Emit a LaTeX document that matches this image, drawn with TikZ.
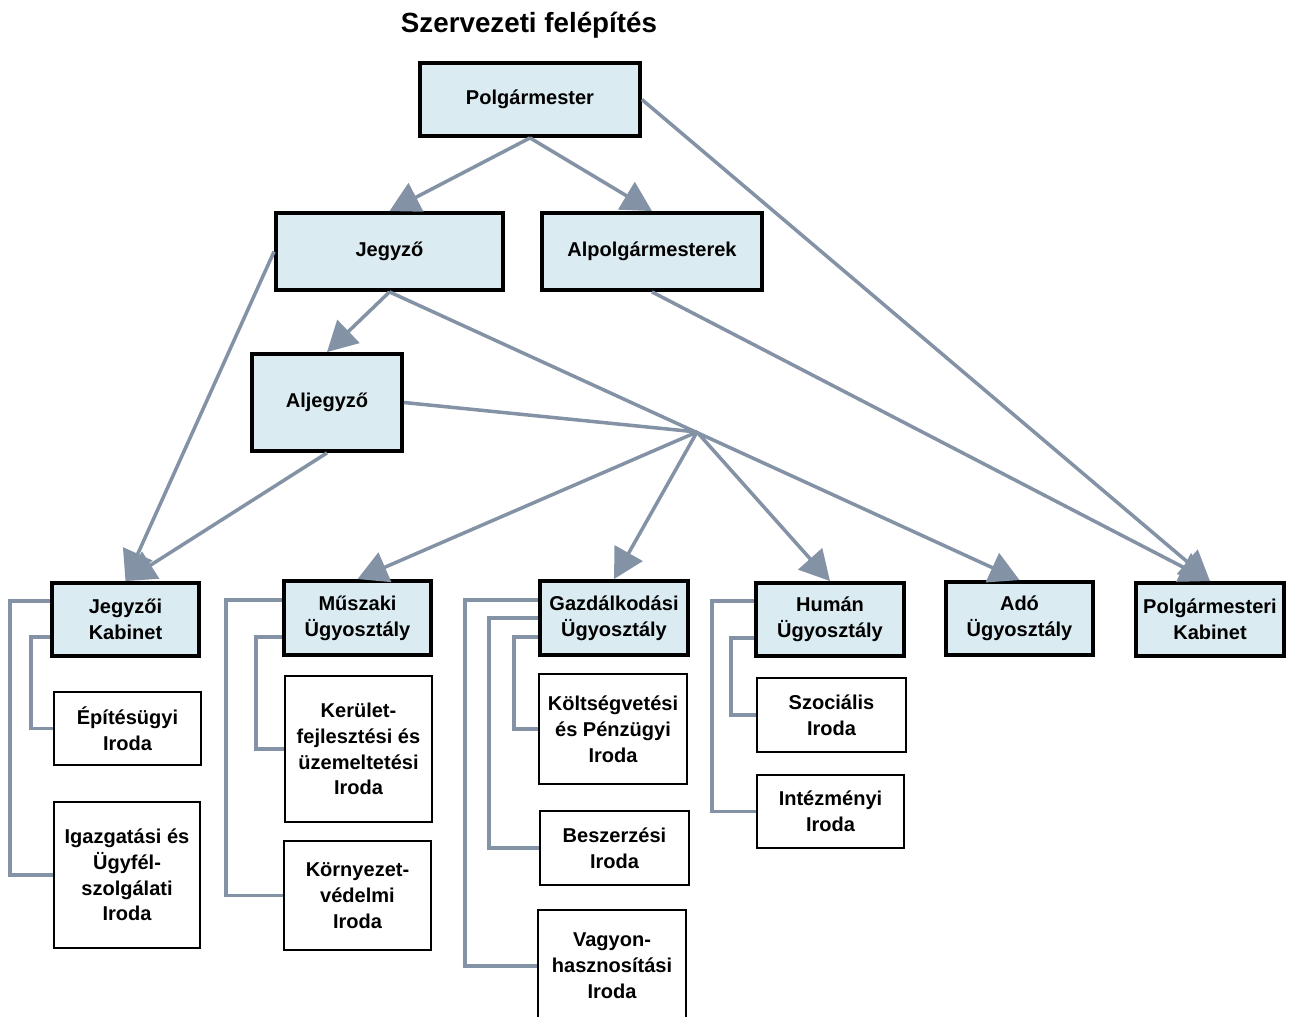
\documentclass[tikz,border=0pt]{standalone}
\usepackage{fontspec}
\setmainfont{Liberation Sans}
\usepackage{xcolor}
\usepackage{tikz}
\usetikzlibrary{shapes,arrows,arrows.meta}
\definecolor{boxblue}{HTML}{DAECF2}
\definecolor{linegray}{HTML}{8492A6}
\tikzstyle{block} = [rectangle, draw, line width=2.2pt, fill=boxblue, align=center, inner sep=0pt, font=\fontsize{11.4pt}{14.7pt}\selectfont\bfseries]
\tikzstyle{office} = [rectangle, draw, line width=1.2pt, fill=white, align=center, inner sep=0pt, minimum width=2.94cm, font=\fontsize{11.4pt}{14.7pt}\selectfont\bfseries]
\tikzstyle{line} = [draw, linegray, line width=2pt, -{Triangle[length=17pt,width=18pt]}]
\tikzstyle{branch} = [draw, linegray, line width=2pt]

\begin{document}
\begin{tikzpicture}[x=0.02cm, y=-0.02cm]
\useasboundingbox (0,0) rectangle (1295,1017);
\node [font=\fontsize{15.8pt}{18pt}\selectfont\bfseries] (title) at (529,25) {Szervezeti felépítés};
% top levels
\node [block, minimum width=4.4cm, minimum height=1.46cm] (pm) at (530,99.5) {Polgármester};
\node [block, minimum width=4.54cm, minimum height=1.54cm] (jegyzo) at (389.5,251.5) {Jegyző};
\node [block, minimum width=4.4cm, minimum height=1.54cm] (alpm) at (652,251.5) {Alpolgármesterek};
\node [block, minimum width=3cm, minimum height=1.94cm] (aljegyzo) at (327,402.5) {Aljegyző};
% departments
\node [block, minimum width=2.94cm, minimum height=1.46cm] (jkab) at (125.5,619.5) {Jegyzői\\Kabinet};
\node [block, minimum width=2.94cm, minimum height=1.48cm] (musz) at (357.5,618) {Műszaki\\Ügyosztály};
\node [block, minimum width=2.96cm, minimum height=1.48cm] (gazd) at (614,618) {Gazdálkodási\\Ügyosztály};
\node [block, minimum width=2.96cm, minimum height=1.46cm] (human) at (830,619.5) {Humán\\Ügyosztály};
\node [block, minimum width=2.94cm, minimum height=1.46cm] (ado) at (1019.5,618.5) {Adó\\Ügyosztály};
\node [block, minimum width=2.96cm, minimum height=1.46cm] (pmkab) at (1210,619.5) {Polgármesteri\\Kabinet};
% offices
\node [office, minimum height=1.46cm] (epit) at (127.5,728.5) {Építésügyi\\Iroda};
\node [office, minimum width=2.92cm, minimum height=2.92cm] (igazg) at (127,875) {Igazgatási és\\Ügyfél-\\szolgálati\\Iroda};
\node [office, minimum height=2.92cm] (kerul) at (358.5,749) {Kerület-\\fejlesztési és\\üzemeltetési\\Iroda};
\node [office, minimum height=2.18cm] (korny) at (357.5,895.5) {Környezet-\\védelmi\\Iroda};
\node [office, minimum width=2.96cm, minimum height=2.2cm] (kolts) at (613,729) {Költségvetési\\és Pénzügyi\\Iroda};
\node [office, minimum width=2.98cm, minimum height=1.48cm] (beszerz) at (614.5,848) {Beszerzési\\Iroda};
\node [office, minimum width=2.96cm, minimum height=2.24cm] (vagyon) at (612,966) {Vagyon-\\hasznosítási\\Iroda};
\node [office, minimum width=2.98cm, minimum height=1.48cm] (szoc) at (831.5,715) {Szociális\\Iroda};
\node [office, minimum height=1.46cm] (intez) at (830.5,811.5) {Intézményi\\Iroda};
\coordinate (hub) at (697,432);
% arrows
\path [line] (pm.south) -- (jegyzo.north);
\path [line] (pm.south) -- (alpm.north);
\path [line] (pm.east) -- (pmkab.north);
\path [line] (alpm.south) -- (pmkab.north);
\path [line] (jegyzo.south) -- (aljegyzo.north);
\path [line] (jegyzo.west) -- (jkab.north);
\path [line] (aljegyzo.south) -- (jkab.north);
\path [line] (jegyzo.south) -- (ado.north);
\path [branch] (aljegyzo.east) -- (hub);
\path [line] (hub) -- (musz.north);
\path [line] (hub) -- (gazd.north);
\path [line] (hub) -- (human.north);
% office brackets
\path [branch] ([yshift=.37cm]jkab.west) -- ++(-40,0) |- (igazg.west);
\path [branch] ([yshift=-.35cm]jkab.west) -- ++(-19,0) |- (epit.west);
\path [branch] ([yshift=.36cm]musz.west) -- ++(-56,0) |- (korny.west);
\path [branch] ([yshift=-.38cm]musz.west) -- ++(-26,0) |- (kerul.west);
\path [branch] ([yshift=.36cm]gazd.west) -- ++(-73,0) |- (vagyon.west);
\path [branch] (gazd.west) -- ++(-49,0) |- (beszerz.west);
\path [branch] ([yshift=-.38cm]gazd.west) -- ++(-24,0) |- (kolts.west);
\path [branch] ([yshift=.37cm]human.west) -- ++(-42,0) |- (intez.west);
\path [branch] ([yshift=-.37cm]human.west) -- ++(-23,0) |- (szoc.west);
\end{tikzpicture}
\end{document}
